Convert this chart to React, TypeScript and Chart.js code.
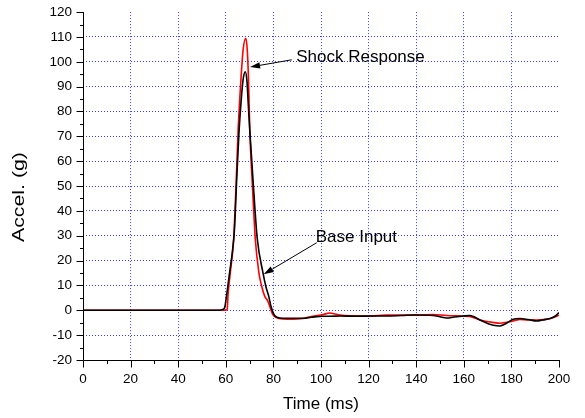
import React, { useEffect, useRef } from 'react';
import { Chart, registerables } from 'chart.js';
Chart.register(...registerables);

// Base Input (black)
const baseTime = [0, 57, 58.5, 59.5, 60.3, 61.6, 62.7, 63.6, 64.5, 65.5, 66.5, 67.3, 68.2, 68.9, 69.5, 70.1, 71.6, 73.2, 75.6, 77, 78, 79, 80.2, 81.5, 84, 88.2, 92.4, 96, 100.8, 104, 108, 115, 120.5, 127.5, 134, 140, 147, 150, 152.8, 156, 159.8, 162.6, 166.8, 170, 172.4, 175.2, 178, 180.8, 183.6, 187, 190.7, 193, 196.3, 198.5, 200];
const baseAccel = [0, 0, 0.3, 1, 5.8, 15.2, 23, 32, 51, 71, 85, 93, 96, 92, 82, 72, 50, 29, 15.2, 9, 5.8, 1.5, -1.6, -2.8, -3.2, -3.2, -3.2, -2.8, -2.4, -2.4, -2.3, -2.4, -2.3, -2.3, -2.1, -1.9, -2.1, -2.6, -3.1, -2.7, -2.3, -2.1, -3.9, -5.3, -6, -6.3, -5.2, -3.6, -3.3, -3.7, -4.3, -3.9, -3.3, -2.3, -0.9];

// Shock Response (red)
const shockTime = [0, 60, 60.6, 60.9, 61.9, 63.3, 64.3, 65.2, 66.3, 67.3, 68.4, 69.0, 69.5, 70.1, 71.2, 72.4, 73.9, 75, 76.3, 77.5, 78.5, 79.7, 81.2, 84, 88.2, 92.4, 96, 100.8, 103.7, 105.5, 107.9, 114, 120.5, 127.5, 134, 140.1, 147.1, 152.8, 159.8, 162.6, 166.8, 172.4, 175.2, 178, 180.8, 183.6, 187, 190.7, 196.3, 200];
const shockAccel = [0, 0, 0.5, 5.8, 15.2, 28.6, 50, 72.8, 92, 105, 109.5, 105, 94, 72, 50, 28.6, 15.2, 10, 5.8, 4, 1.5, -1.6, -2.9, -3.5, -3.6, -3.3, -2.5, -1.7, -1.1, -1.4, -1.9, -2.2, -2.3, -1.9, -1.9, -1.9, -1.7, -2.1, -2.3, -2.5, -3.9, -4.9, -5.2, -4.8, -4.3, -3.7, -3.9, -3.9, -3.3, -2];

const xTickValues = [0, 20, 40, 60, 80, 100, 120, 140, 160, 180, 200];
const xMinorValues = [10, 30, 50, 70, 90, 110, 130, 150, 170, 190];
const yTickValues = [-20, -10, 0, 10, 20, 30, 40, 50, 60, 70, 80, 90, 100, 110, 120];
const yMinorValues = [-15, -5, 5, 15, 25, 35, 45, 55, 65, 75, 85, 95, 105, 115];

const yTitle = 'Accel. (g)';
const xTitle = 'Time (ms)';

// Annotations: label, label anchor (x,y), arrow start, arrow tip (data units)
const annLabels = ['Shock Response', 'Base Input'];
const annTextX = [89.6, 97.8];
const annTextY = [101.7, 29.5];
const annFromX = [87.7, 98.2];
const annFromY = [100.8, 27.2];
const annTipX = [70.2, 75.9];
const annTipY = [97.9, 14.5];

const FONT = '"Liberation Sans", Arial, Helvetica, sans-serif';

const axesPlugin = {
  id: 'axesDraw',
  afterDatasetsDraw(chart: any) {
    const { ctx, chartArea: a, scales } = chart;
    const x = scales.x, y = scales.y;
    ctx.save();
    ctx.strokeStyle = '#000';
    ctx.lineWidth = 1;
    ctx.setLineDash([]);
    const lx = Math.round(a.left) + 0.5;
    const by = Math.round(a.bottom) + 0.5;
    ctx.beginPath();
    ctx.moveTo(lx, Math.round(a.top));
    ctx.lineTo(lx, by);
    ctx.lineTo(Math.round(a.right) + 1, by);
    yTickValues.forEach((v) => {
      const p = Math.round(y.getPixelForValue(v)) + 0.5;
      ctx.moveTo(lx - 7, p); ctx.lineTo(lx, p);
    });
    yMinorValues.forEach((v) => {
      const p = Math.round(y.getPixelForValue(v)) + 0.5;
      ctx.moveTo(lx - 3.5, p); ctx.lineTo(lx, p);
    });
    xTickValues.forEach((v) => {
      const p = Math.round(x.getPixelForValue(v)) + 0.5;
      ctx.moveTo(p, by); ctx.lineTo(p, by + 7);
    });
    xMinorValues.forEach((v) => {
      const p = Math.round(x.getPixelForValue(v)) + 0.5;
      ctx.moveTo(p, by); ctx.lineTo(p, by + 3.5);
    });
    ctx.stroke();

    // y axis title (stretched along its length as in the reference)
    ctx.fillStyle = '#000';
    ctx.font = `17px ${FONT}`;
    ctx.textBaseline = 'middle';
    ctx.textAlign = 'center';
    ctx.save();
    ctx.translate(19, (a.top + a.bottom) / 2 + 11);
    ctx.rotate(-Math.PI / 2);
    const w = ctx.measureText(yTitle).width;
    ctx.scale(90 / w, 1);
    ctx.fillText(yTitle, 0, 0);
    ctx.restore();

    // annotations
    ctx.textAlign = 'left';
    annLabels.forEach((lab, i) => {
      ctx.fillText(lab, x.getPixelForValue(annTextX[i]), y.getPixelForValue(annTextY[i]));
      const x0 = x.getPixelForValue(annFromX[i]);
      const y0 = y.getPixelForValue(annFromY[i]);
      const x1 = x.getPixelForValue(annTipX[i]);
      const y1 = y.getPixelForValue(annTipY[i]);
      const ang = Math.atan2(y1 - y0, x1 - x0);
      const L = 10, W = 3.2;
      const bx = x1 - L * Math.cos(ang), byy = y1 - L * Math.sin(ang);
      ctx.beginPath();
      ctx.lineWidth = 1;
      ctx.moveTo(x0, y0);
      ctx.lineTo(bx, byy);
      ctx.stroke();
      ctx.beginPath();
      ctx.moveTo(x1, y1);
      ctx.lineTo(bx + W * Math.sin(ang), byy - W * Math.cos(ang));
      ctx.lineTo(bx - W * Math.sin(ang), byy + W * Math.cos(ang));
      ctx.closePath();
      ctx.fill();
    });
    ctx.restore();
  },
};

export default function App() {
  const ref = useRef<HTMLCanvasElement>(null);
  useEffect(() => {
    if (!ref.current) return;
    const gridColor = (edgeMin: number, edgeMax: number) => (c: any) =>
      c.tick && (c.tick.value === edgeMin || c.tick.value === edgeMax) ? 'rgba(0,0,0,0)' : 'rgba(40,40,255,0.9)';
    const chart = new Chart(ref.current, {
      type: 'line',
      data: {
        datasets: [
          {
            label: 'Base Input',
            data: baseTime.map((t, i) => ({ x: t, y: baseAccel[i] })),
            borderColor: '#000000',
            borderWidth: 1.6,
            pointRadius: 0,
            cubicInterpolationMode: 'monotone',
            fill: false,
          },
          {
            label: 'Shock Response',
            data: shockTime.map((t, i) => ({ x: t, y: shockAccel[i] })),
            borderColor: '#ff0000',
            borderWidth: 1.6,
            pointRadius: 0,
            cubicInterpolationMode: 'monotone',
            fill: false,
          },
        ],
      },
      options: {
        responsive: false,
        animation: false,
        events: [],
        layout: { padding: { left: 0, right: 26, top: 12, bottom: 0 } },
        plugins: { legend: { display: false }, tooltip: { enabled: false } },
        scales: {
          x: {
            type: 'linear',
            min: 0,
            max: 200,
            afterBuildTicks: (s: any) => { s.ticks = xTickValues.map((v) => ({ value: v })); },
            afterFit: (s: any) => { s.height = 58; },
            ticks: { color: '#000', font: { family: FONT, size: 13.5 }, padding: 4, maxRotation: 0, autoSkip: false },
            grid: { color: gridColor(0, 200), lineWidth: 1, drawTicks: true, tickLength: 7, tickColor: 'rgba(0,0,0,0)' },
            border: { display: false, dash: [1, 2] },
            title: { display: true, text: xTitle, color: '#000', font: { family: FONT, size: 17 }, padding: { top: 0, bottom: 3 } },
          },
          y: {
            type: 'linear',
            min: -20,
            max: 120,
            afterBuildTicks: (s: any) => { s.ticks = yTickValues.map((v) => ({ value: v })); },
            afterFit: (s: any) => { s.width = 83; },
            ticks: { color: '#000', font: { family: FONT, size: 13.5 }, padding: 4, autoSkip: false },
            grid: { color: gridColor(-20, 120), lineWidth: 1, drawTicks: true, tickLength: 7, tickColor: 'rgba(0,0,0,0)' },
            border: { display: false, dash: [1, 2] },
            title: { display: false },
          },
        },
      },
      plugins: [axesPlugin],
    } as any);
    return () => chart.destroy();
  }, []);
  return (
    <div style={{ position: 'fixed', left: 0, top: 0, width: 585, height: 418, background: '#fff' }}>
      <canvas ref={ref} width={585} height={418} style={{ display: 'block', width: 585, height: 418 }} />
    </div>
  );
}
